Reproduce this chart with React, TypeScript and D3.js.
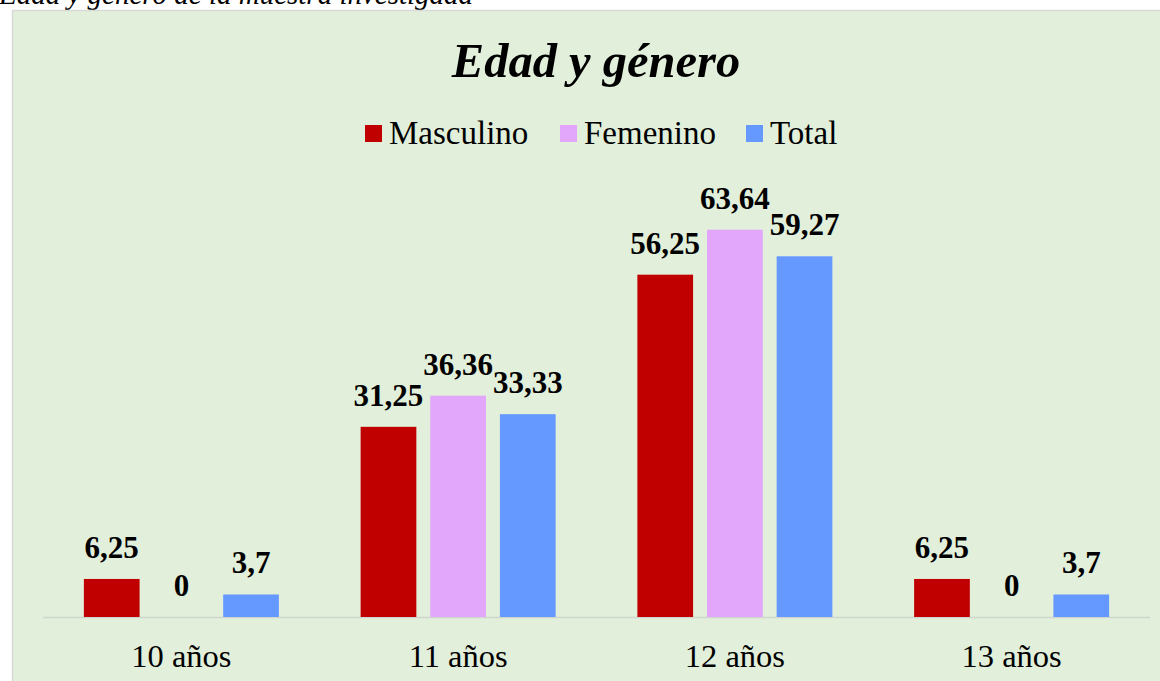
import React from "react";
import * as d3 from "d3";

const categories = ["10 años", "11 años", "12 años", "13 años"];
const seriesNames = ["Masculino", "Femenino", "Total"];
const masculino = [6.25, 31.25, 56.25, 6.25];
const femenino = [0, 36.36, 63.64, 0];
const total = [3.7, 33.33, 59.27, 3.7];
const labelsM = ["6,25", "31,25", "56,25", "6,25"];
const labelsF = ["0", "36,36", "63,64", "0"];
const labelsT = ["3,7", "33,33", "59,27", "3,7"];
const colors = ["#C00000", "#E2A6FA", "#6699FF"];

const W = 1160;
const H = 681;
const FONT = "'Liberation Serif', 'Times New Roman', serif";

export default function App() {
  const x0 = d3.scaleBand<string>().domain(categories).range([43, 1150]).paddingInner(0).paddingOuter(0);
  const groupW = 195;
  const x1 = d3
    .scaleBand<string>()
    .domain(seriesNames)
    .range([0, groupW])
    .paddingInner(0.2)
    .paddingOuter(0);
  const y = d3.scaleLinear().domain([0, 70]).range([617, 191]);
  const series = [masculino, femenino, total];
  const labels = [labelsM, labelsF, labelsT];
  const legendX = [365, 560, 746];

  return (
    <svg
      width={W}
      height={H}
      style={{ position: "absolute", left: 0, top: 0, display: "block" }}
      xmlns="http://www.w3.org/2000/svg"
    >
      <rect x={0} y={0} width={W} height={H} fill="#ffffff" />
      <text x={-1} y={4} fontFamily={FONT} fontStyle="italic" fontSize={29} fill="#000">
        Edad y género de la muestra investigada
      </text>
      <rect x={12.5} y={10.5} width={W} height={H} fill="#E2EFDA" stroke="#D9D9D9" strokeWidth={1.5} />
      <text
        x={596}
        y={77}
        textAnchor="middle"
        fontFamily={FONT}
        fontStyle="italic"
        fontWeight="bold"
        fontSize={48.5}
        fill="#000"
      >
        Edad y género
      </text>
      {seriesNames.map((s, i) => (
        <g key={s}>
          <rect x={legendX[i]} y={125} width={17} height={17} fill={colors[i]} />
          <text x={legendX[i] + 24} y={144} fontFamily={FONT} fontSize={33} fill="#000">
            {s}
          </text>
        </g>
      ))}
      <line x1={43} x2={1150} y1={617.5} y2={617.5} stroke="#D0D5CF" strokeWidth={1.5} />
      {categories.map((c, ci) => {
        const gx = (x0(c) as number) + x0.bandwidth() / 2 - groupW / 2;
        return (
          <g key={c}>
            {series.map((vals, si) => {
              const bx = gx + (x1(seriesNames[si]) as number);
              const bw = x1.bandwidth();
              const v = vals[ci];
              return (
                <g key={si}>
                  {v > 0 && (
                    <rect x={bx} y={y(v)} width={bw} height={y(0) - y(v)} fill={colors[si]} />
                  )}
                  <text
                    x={bx + bw / 2}
                    y={y(v) - 21}
                    textAnchor="middle"
                    fontFamily={FONT}
                    fontWeight="bold"
                    fontSize={31}
                    fill="#000"
                  >
                    {labels[si][ci]}
                  </text>
                </g>
              );
            })}
            <text
              x={(x0(c) as number) + x0.bandwidth() / 2}
              y={667}
              textAnchor="middle"
              fontFamily={FONT}
              fontSize={32.5}
              fill="#000"
            >
              {c}
            </text>
          </g>
        );
      })}
    </svg>
  );
}
